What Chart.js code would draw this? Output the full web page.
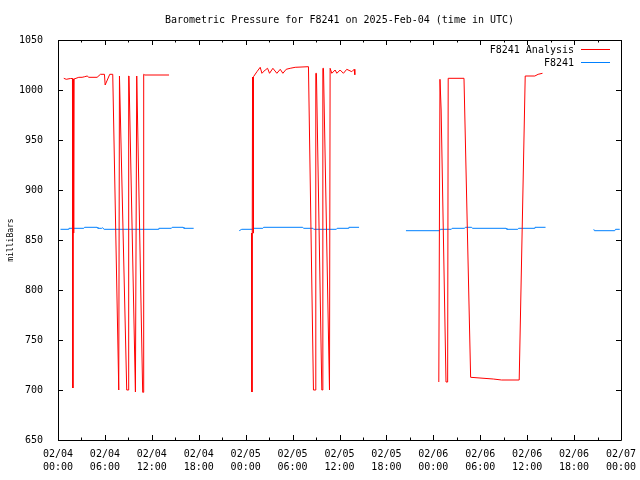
<!DOCTYPE html>
<html>
<head>
<meta charset="utf-8">
<script src="https://cdn.jsdelivr.net/npm/chart.js@4/dist/chart.umd.min.js"></script>
<style>
    body { margin: 0; background: #fff; }
    #wrap { width: 640px; height: 480px; }
</style>
</head>
<body>
<div id="wrap"><canvas id="myChart" width="640" height="480"></canvas></div>
<script>
// hours since 02/04 00:00 UTC, null = gap in the record
const analysisHours = [
    0.74, 1.05, 1.6, 1.85, 1.9, 1.95, 2.0, 2.05, 2.3, 2.66, 3.08, 3.42, 3.73, 3.94, 5.0, 5.43, 5.94, 6.03, 6.62, 7.0,
    7.77, 7.86, 7.92, 8.79, 8.96, 9.04, 9.08, 9.9, 10.07, 10.1, 10.83, 10.92, 10.96, 11.1, 14.2,
    16,
    24.75, 24.8, 24.88, 24.94, 25.0, 25.44, 25.86, 26.08, 26.5, 26.8, 27.05, 27.48, 27.99, 28.42, 28.76, 29.18, 29.69, 30.33, 32.03,
    32.67, 32.87, 32.97, 33.05, 33.74, 33.8, 33.87, 33.95, 34.72, 34.76, 34.8, 35.02, 35.44, 35.66, 36.08, 36.5, 36.93, 37.57, 37.87, 37.96,
    42,
    48.7, 48.85, 49.0, 49.62, 49.83, 49.9, 51.92, 52.77, 55.66, 56.73, 58.98, 59.75, 60.98, 61.4, 61.96
];
const analysisValues = [
    1011.7, 1010.7, 1011.5, 1011.5, 702, 1011, 857, 1011, 1011.7, 1012.7, 1012.7, 1013.3, 1014, 1012.7, 1012.7, 1015.7, 1015.7, 1005, 1015.7, 1015.7,
    700, 1014, 1014, 700, 700, 1014, 1014, 698, 1014, 1014, 697.7, 697.7, 1015.7, 1015, 1015,
    null,
    857, 698, 1013, 857, 1013.3, 1018.3, 1022.7, 1016.7, 1020, 1021.7, 1016.7, 1021.7, 1016.7, 1020.7, 1016.7, 1020.7, 1021.7, 1022.7, 1023.3,
    700, 700, 1016.7, 1016.7, 700, 700, 1021.7, 1021.7, 700, 700, 1021.7, 1016.7, 1020, 1016.7, 1020, 1016.7, 1020.7, 1018.3, 1020.7, 1015.3,
    null,
    708, 1010.7, 980, 708, 708, 1011.7, 1011.7, 712.7, 711, 710, 710, 1014, 1014, 1015.7, 1016.7
];

const stationHours = [
    0.32, 1.3, 1.4, 3.3, 3.4, 5.0, 5.1, 5.6, 5.7, 5.9, 12.8, 12.9, 14.5, 14.6, 16.0, 16.1, 17.35,
    20,
    23.18, 23.5, 24.9, 25.0, 26.2, 26.3, 31.3, 31.4, 32.6, 32.7, 35.6, 35.7, 37.1, 37.2, 38.5,
    41,
    44.5, 48.8, 48.9, 50.3, 50.4, 52.0, 52.1, 52.9, 53.0, 57.3, 57.4, 58.8, 58.9, 60.9, 61.0, 62.35,
    65,
    68.52, 68.6, 71.2, 71.3, 71.84
];
const stationValues = [
    860.7, 860.7, 861.7, 861.7, 862.7, 862.7, 861.7, 861.7, 862.2, 860.7, 860.7, 861.7, 861.7, 862.7, 862.7, 861.7, 861.7,
    null,
    859.3, 860.7, 860.7, 861.7, 861.7, 862.7, 862.7, 861.7, 861.7, 860.7, 860.7, 861.7, 861.7, 862.7, 862.7,
    null,
    859.3, 859.3, 860.7, 860.7, 861.7, 861.7, 862.7, 862.7, 861.7, 861.7, 860.7, 860.7, 861.7, 861.7, 862.7, 862.7,
    null,
    860.7, 859.3, 859.3, 860.7, 860.7
];

const seriesNames = ['F8241 Analysis', 'F8241'];
const seriesColors = ['#ff0000', 'rgb(0,128,255)'];
const days = ['02/04', '02/05', '02/06', '02/07'];

const FONT = 'DejaVu Sans Mono';

function toPoints(xs, ys){
    let pts = [];
    xs.forEach((x, i) => {
        pts.push({x: x, y: ys[i]});
    });
    return pts;
}

function hourLabel(v){
    let d = days[Math.floor(v / 24)];
    let h = v % 24;
    return [d, (h < 10 ? '0' : '') + h + ':00'];
}

// gnuplot style frame with inward ticks on all four sides + legend in the corner
const framePlugin = {
    id: 'frame',
    afterDraw(chart){
        const ctx = chart.ctx;
        const a = chart.chartArea;
        const xs = chart.scales.x;
        const ys = chart.scales.y;
        ctx.save();
        ctx.strokeStyle = '#000';
        ctx.lineWidth = 1;
        ctx.beginPath();
        ctx.rect(Math.round(a.left) + 0.5, Math.round(a.top) + 0.5, Math.round(a.right - a.left), Math.round(a.bottom - a.top));
        for(let v = 0; v <= 72; v += 3){
            let px = Math.round(xs.getPixelForValue(v)) + 0.5;
            let len = v % 6 === 0 ? 5 : 2.5;
            ctx.moveTo(px, a.bottom); ctx.lineTo(px, a.bottom - len);
            ctx.moveTo(px, a.top); ctx.lineTo(px, a.top + len);
        }
        for(let v = 650; v <= 1050; v += 50){
            let py = Math.round(ys.getPixelForValue(v)) + 0.5;
            ctx.moveTo(a.left, py); ctx.lineTo(a.left + 5, py);
            ctx.moveTo(a.right, py); ctx.lineTo(a.right - 5, py);
        }
        ctx.stroke();

        ctx.font = '10px "' + FONT + '"';
        ctx.textAlign = 'right';
        ctx.textBaseline = 'middle';
        seriesNames.forEach((name, i) => {
            let y = 49.5 + i * 13;
            ctx.fillStyle = '#000';
            ctx.fillText(name, 574, y + 0.5);
            ctx.strokeStyle = seriesColors[i];
            ctx.beginPath();
            ctx.moveTo(581, y);
            ctx.lineTo(610, y);
            ctx.stroke();
        });
        ctx.restore();
    }
};

const data = {
    datasets: [{
        label: seriesNames[0],
        data: toPoints(analysisHours, analysisValues),
        borderColor: seriesColors[0],
        backgroundColor: seriesColors[0],
        borderWidth: 1,
        pointRadius: 0,
        tension: 0,
        spanGaps: false
    }, {
        label: seriesNames[1],
        data: toPoints(stationHours, stationValues),
        borderColor: seriesColors[1],
        backgroundColor: seriesColors[1],
        borderWidth: 1,
        pointRadius: 0,
        tension: 0,
        spanGaps: false
    }]
};

const config = {
    type: 'line',
    data: data,
    options: {
        responsive: false,
        animation: false,
        events: [],
        layout: { padding: { left: 0, right: 19, top: 0, bottom: 0 } },
        plugins: {
            legend: { display: false },
            tooltip: { enabled: false },
            title: {
                display: true,
                fullSize: false,
                text: 'Barometric Pressure for F8241 on 2025-Feb-04 (time in UTC)',
                color: '#000',
                font: { family: FONT, size: 10, weight: 'normal', lineHeight: '12px' },
                padding: { top: 14, bottom: 14 }
            }
        },
        scales: {
            x: {
                type: 'linear',
                min: 0,
                max: 72,
                afterFit: s => { s.height = 40; s.paddingLeft = 0; s.paddingRight = 0; },
                grid: { display: false },
                border: { display: false },
                ticks: {
                    stepSize: 6,
                    autoSkip: false,
                    maxRotation: 0,
                    padding: 0,
                    color: '#000',
                    font: { family: FONT, size: 10, lineHeight: '13px' },
                    callback: v => hourLabel(v)
                }
            },
            y: {
                min: 650,
                max: 1050,
                afterFit: s => { s.width = 58; },
                grid: { display: false },
                border: { display: false },
                title: {
                    display: true,
                    text: 'milliBars',
                    color: '#000',
                    font: { family: FONT, size: 8, lineHeight: '14px' },
                    padding: { top: 4, bottom: 0 }
                },
                ticks: {
                    stepSize: 50,
                    padding: 7,
                    color: '#000',
                    font: { family: FONT, size: 10 },
                    callback: v => String(v)
                }
            }
        }
    },
    plugins: [framePlugin]
};

new Chart(document.getElementById('myChart'), config);
</script>
</body>
</html>
